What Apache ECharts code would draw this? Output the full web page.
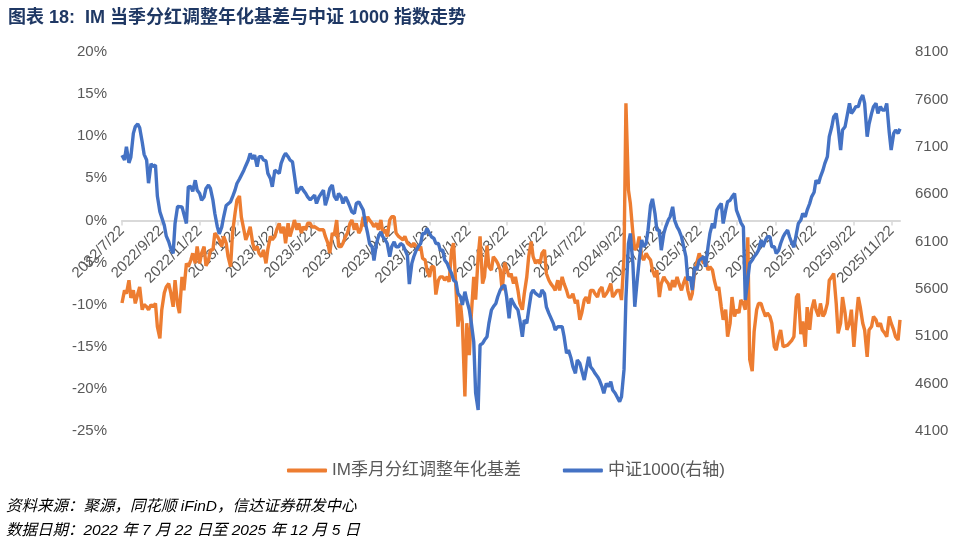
<!DOCTYPE html>
<html>
<head>
<meta charset="utf-8">
<script src="https://cdn.jsdelivr.net/npm/echarts@6/dist/echarts.min.js"></script>
<style>
html,body{margin:0;padding:0;background:#fff;}
#chart{width:961px;height:546px;}
</style>
</head>
<body>
<div id="chart"></div>
<script>
// Observation dates: Fridays
const fridays = [
'2022-07-22','2022-07-29','2022-08-05','2022-08-12','2022-08-19','2022-08-26','2022-09-02','2022-09-09','2022-09-16','2022-09-23','2022-09-30',
'2022-10-07','2022-10-14','2022-10-21','2022-10-28','2022-11-04','2022-11-11','2022-11-18','2022-11-25','2022-12-02','2022-12-09','2022-12-16','2022-12-23','2022-12-30',
'2023-01-06','2023-01-13','2023-01-20','2023-01-27','2023-02-03','2023-02-10','2023-02-17','2023-02-24','2023-03-03','2023-03-10','2023-03-17','2023-03-24','2023-03-31',
'2023-04-07','2023-04-14','2023-04-21','2023-04-28','2023-05-05','2023-05-12','2023-05-19','2023-05-26','2023-06-02','2023-06-09','2023-06-16','2023-06-23','2023-06-30',
'2023-07-07','2023-07-14','2023-07-21','2023-07-28','2023-08-04','2023-08-11','2023-08-18','2023-08-25','2023-09-01','2023-09-08','2023-09-15','2023-09-22','2023-09-29',
'2023-10-06','2023-10-13','2023-10-20','2023-10-27','2023-11-03','2023-11-10','2023-11-17','2023-11-24','2023-12-01','2023-12-08','2023-12-15','2023-12-22','2023-12-29',
'2024-01-05','2024-01-12','2024-01-19','2024-01-26','2024-02-02','2024-02-09','2024-02-16','2024-02-23','2024-03-01','2024-03-08','2024-03-15','2024-03-22','2024-03-29',
'2024-04-05','2024-04-12','2024-04-19','2024-04-26','2024-05-03','2024-05-10','2024-05-17','2024-05-24','2024-05-31','2024-06-07','2024-06-14','2024-06-21','2024-06-28',
'2024-07-05','2024-07-12','2024-07-19','2024-07-26','2024-08-02','2024-08-09','2024-08-16','2024-08-23','2024-08-30','2024-09-06','2024-09-13','2024-09-20','2024-09-27',
'2024-10-04','2024-10-11','2024-10-18','2024-10-25','2024-11-01','2024-11-08','2024-11-15','2024-11-22','2024-11-29','2024-12-06','2024-12-13','2024-12-20','2024-12-27',
'2025-01-03','2025-01-10','2025-01-17','2025-01-24','2025-01-31','2025-02-07','2025-02-14','2025-02-21','2025-02-28','2025-03-07','2025-03-14','2025-03-21','2025-03-28',
'2025-04-04','2025-04-11','2025-04-18','2025-04-25','2025-05-02','2025-05-09','2025-05-16','2025-05-23','2025-05-30','2025-06-06','2025-06-13','2025-06-20','2025-06-27',
'2025-07-04','2025-07-11','2025-07-18','2025-07-25','2025-08-01','2025-08-08','2025-08-15','2025-08-22','2025-08-29','2025-09-05','2025-09-12','2025-09-19','2025-09-26',
'2025-10-03','2025-10-10','2025-10-17','2025-10-24','2025-10-31','2025-11-07','2025-11-14','2025-11-21','2025-11-28','2025-12-05'
];
// Observation dates: Tuesdays
const tuesdays = [
'2022-07-26','2022-08-02','2022-08-09','2022-08-16','2022-08-23','2022-08-30','2022-09-06','2022-09-13','2022-09-20','2022-09-27',
'2022-10-04','2022-10-11','2022-10-18','2022-10-25','2022-11-01','2022-11-08','2022-11-15','2022-11-22','2022-11-29','2022-12-06','2022-12-13','2022-12-20','2022-12-27',
'2023-01-03','2023-01-10','2023-01-17','2023-01-24','2023-01-31','2023-02-07','2023-02-14','2023-02-21','2023-02-28','2023-03-07','2023-03-14','2023-03-21','2023-03-28',
'2023-04-04','2023-04-11','2023-04-18','2023-04-25','2023-05-02','2023-05-09','2023-05-16','2023-05-23','2023-05-30','2023-06-06','2023-06-13','2023-06-20','2023-06-27',
'2023-07-04','2023-07-11','2023-07-18','2023-07-25','2023-08-01','2023-08-08','2023-08-15','2023-08-22','2023-08-29','2023-09-05','2023-09-12','2023-09-19','2023-09-26',
'2023-10-03','2023-10-10','2023-10-17','2023-10-24','2023-10-31','2023-11-07','2023-11-14','2023-11-21','2023-11-28','2023-12-05','2023-12-12','2023-12-19','2023-12-26',
'2024-01-02','2024-01-09','2024-01-16','2024-01-23','2024-01-30','2024-02-06','2024-02-13','2024-02-20','2024-02-27','2024-03-05','2024-03-12','2024-03-19','2024-03-26',
'2024-04-02','2024-04-09','2024-04-16','2024-04-23','2024-04-30','2024-05-07','2024-05-14','2024-05-21','2024-05-28','2024-06-04','2024-06-11','2024-06-18','2024-06-25',
'2024-07-02','2024-07-09','2024-07-16','2024-07-23','2024-07-30','2024-08-06','2024-08-13','2024-08-20','2024-08-27','2024-09-03','2024-09-10','2024-09-17','2024-09-24',
'2024-10-01','2024-10-08','2024-10-15','2024-10-22','2024-10-29','2024-11-05','2024-11-12','2024-11-19','2024-11-26','2024-12-03','2024-12-10','2024-12-17','2024-12-24','2024-12-31',
'2025-01-07','2025-01-14','2025-01-21','2025-01-28','2025-02-04','2025-02-11','2025-02-18','2025-02-25','2025-03-04','2025-03-11','2025-03-18','2025-03-25',
'2025-04-01','2025-04-08','2025-04-15','2025-04-22','2025-04-29','2025-05-06','2025-05-13','2025-05-20','2025-05-27','2025-06-03','2025-06-10','2025-06-17','2025-06-24',
'2025-07-01','2025-07-08','2025-07-15','2025-07-22','2025-07-29','2025-08-05','2025-08-12','2025-08-19','2025-08-26','2025-09-02','2025-09-09','2025-09-16','2025-09-23','2025-09-30',
'2025-10-07','2025-10-14','2025-10-21','2025-10-28','2025-11-04','2025-11-11','2025-11-18','2025-11-25','2025-12-02'
];

// IM 季月分红调整年化基差 (%), Friday readings
const imFri = [
-9.8,-8.7,-9.2,-9.85,-7.9,-10.0,-10.6,-10.25,-12.6,-10.6,
-7.9,-8.5,-7.1,-11.0,-8.3,-5.5,-3.9,-3.1,-3.9,-5.4,
-3.5,-1.5,-2.3,-1.9,-4.3,-1.5,2.4,0.4,-2.3,-0.75,
-3.5,-3.9,-3.5,-3.4,-2.3,-1.1,-1.5,-2.7,-1.9,0.05,
-0.34,-0.75,-0.34,-0.8,-0.55,-1.3,-1.9,-3.9,-1.8,-3.1,
-2.7,-1.5,0.05,-0.34,-1.1,-0.75,0.05,-0.75,-1.1,-1.5,
-1.9,0.44,-1.5,-1.9,-1.9,-2.7,-2.7,-3.5,-4.5,-5.9,
-5.5,-8.8,-6.7,-7.1,-7.3,-2.7,-12.6,-12.2,-12.2,-11.4,
-9.4,-1.9,-6.7,-5.5,-4.3,-5.1,-8.3,-5.1,-6.3,-6.7,
-9.85,-8.7,-4.3,-4.3,-4.7,-3.9,-6.3,-7.5,-8.3,-8.3,
-7.5,-9.1,-8.7,-9.45,-11.0,-9.1,-8.3,-8.7,-8.3,-9.1,
-8.3,-9.1,-8.3,-9.45,13.9,2.0,-3.5,-1.9,-4.7,-4.3,
-5.9,-5.9,-7.5,-7.1,-8.3,-7.9,-7.5,-7.5,-8.3,-8.7,
-5.1,-4.5,-4.7,-5.5,-7.1,-7.9,-11.8,-13.8,-9.1,-10.6,
-9.45,-10.6,-16.5,-13.2,-9.85,-10.6,-11.0,-12.2,-15.4,-13.0,
-15.0,-14.6,-13.8,-8.7,-12.0,-10.3,-10.6,-10.6,-9.85,-11.0,
-7.1,-6.3,-13.4,-9.1,-13.0,-10.6,-12.2,-10.25,-13.0,-13.0,
-11.4,-12.6,-13.0,-13.8,-12.2,-13.8,-11.8
];
// IM 季月分红调整年化基差 (%), Tuesday readings
const imTue = [
-8.3,-7.1,-8.3,-8.7,-10.6,-10.25,-10.0,-9.85,-14.0,-8.6,
-7.5,-10.25,-10.0,-6.7,-5.1,-4.7,-5.1,-5.1,-3.1,-4.7,
-3.5,-1.9,-3.1,-2.7,-5.5,0.84,2.9,-1.1,-1.5,-2.7,
-3.1,-4.3,-5.1,-1.9,-1.9,-0.34,-0.75,-0.34,-0.9,-1.1,
-1.5,-1.1,-0.34,-0.75,-1.1,-1.1,-2.7,-1.5,0.05,-3.1,
-1.9,-0.34,-1.1,-1.5,0.44,0.44,-0.34,-0.34,0.05,-1.1,
0.05,0.44,-1.9,-2.3,-2.7,-3.1,-3.1,-3.1,-4.7,-6.7,
-5.5,-7.1,-6.7,-6.7,-3.5,-8.3,-9.85,-20.9,-16.0,-6.7,
-4.3,-7.5,-3.0,-5.9,-4.7,-5.9,-5.0,-6.7,-7.5,-8.3,
-10.6,-6.7,-2.5,-5.1,-5.1,-3.5,-7.1,-7.9,-7.1,-6.7,
-8.3,-9.1,-9.85,-11.8,-9.45,-9.85,-8.3,-9.1,-7.9,-8.7,
-7.5,-8.7,-8.3,-4.3,3.6,-1.5,-3.1,-4.3,-3.9,-4.7,
-6.7,-9.1,-6.7,-7.5,-7.1,-6.7,-8.3,-6.7,-9.45,-5.9,
-3.9,-5.1,-5.9,-5.9,-8.3,-10.25,-10.6,-12.2,-11.4,-11.0,
-9.85,-2.0,-17.9,-10.6,-9.85,-11.4,-11.4,-15.0,-13.8,-15.0,
-14.8,-14.2,-9.1,-13.5,-15.0,-13.0,-9.4,-11.4,-11.4,-9.85,
-6.7,-9.85,-12.2,-11.0,-12.2,-15.0,-9.1,-12.2,-16.2,-12.6,
-11.8,-12.2,-13.4,-11.4,-13.0,-14.2
];

// 中证1000 指数 (右轴), Friday readings
const csiFri = [
7010,7100,6990,7311,7300,7020,6715,6890,6580,6431,
6160,6030,6290,6450,6480,6677,6630,6642,6536,6660,
6660,6396,6180,6361,6501,6570,6712,6775,6900,7030,
7013,6995,6960,6819,6677,6871,6925,7030,6960,6800,
6642,6642,6570,6550,6501,6570,6483,6659,6580,6607,
6501,6530,6413,6501,6536,6308,6079,5900,6150,6150,
6079,6044,6044,6079,6079,5650,5939,6044,6185,6238,
6150,6079,6009,5904,5815,5692,5552,5430,5480,5250,
4500,5008,5060,5236,5411,5517,5622,5520,5500,5411,
5271,5270,5377,5588,5552,5588,5411,5320,5166,5218,
5100,4955,4779,4849,4796,4744,4779,4709,4638,4498,
4568,4533,4480,4462,5500,6185,5411,5900,6044,6220,
6550,6220,6009,6255,6361,6326,6220,6150,5692,5588,
5798,5900,5833,6185,6240,6466,6290,6520,6571,6431,
6300,5482,5869,5939,6009,6044,6150,6044,5974,6079,
6185,6150,6040,6290,6396,6431,6571,6747,6783,6925,
7206,7417,7311,7276,7417,7452,7523,7593,7558,7340,
7523,7452,7488,7558,7065,7276,7290
];
// 中证1000 指数 (右轴), Tuesday readings
const csiTue = [
6960,6930,7241,7340,7150,6960,6920,6907,6413,6270,
6097,5974,6470,6466,6290,6680,6747,6607,6570,6695,
6536,6255,6255,6480,6520,6642,6760,6853,6960,6970,
6890,6995,6950,6766,6853,6819,6995,6995,6940,6607,
6677,6607,6540,6589,6571,6642,6571,6695,6536,6571,
6571,6466,6396,6519,6431,6185,6044,6079,6202,6115,
5939,6097,6044,6062,5950,5869,6009,6079,6185,6185,
6132,6079,6009,5869,5763,5670,5517,5570,5380,5043,
4322,5025,5095,5377,5446,5588,5640,5290,5446,5377,
5095,5236,5552,5552,5517,5552,5341,5236,5201,5201,
4920,4870,4709,4814,4638,4884,4744,4673,4568,4603,
4620,4498,4409,4750,6079,5869,5700,6115,6079,6480,
6396,6220,6185,6326,6466,6255,6150,5939,5728,5833,
5900,5939,6044,6290,6431,6501,6431,6536,6607,6361,
6255,5700,5904,5974,6115,6115,6150,6044,6009,6150,
6220,6079,6185,6326,6361,6501,6620,6712,6853,6995,
7311,7450,7065,7311,7558,7488,7523,7646,7206,7452,
7558,7523,7488,7250,7241,7241
];

const xTickLabels = ['2022/7/22','2022/9/22','2022/11/22','2023/1/22','2023/3/22','2023/5/22','2023/7/22',
'2023/9/22','2023/11/22','2024/1/22','2024/3/22','2024/5/22','2024/7/22','2024/9/22','2024/11/22',
'2025/1/22','2025/3/22','2025/5/22','2025/7/22','2025/9/22','2025/11/22'];
const leftTicks = [-25,-20,-15,-10,-5,0,5,10,15,20];
const rightTicks = [4100,4600,5100,5600,6100,6600,7100,7600,8100];
const xStart = '2022-07-22';
const xEnd = '2025-12-05';

const seriesNames = ['IM季月分红调整年化基差','中证1000(右轴)'];
const titleText = '图表 18:  IM 当季分红调整年化基差与中证 1000 指数走势';
const sourceText = '资料来源：聚源，同花顺 iFinD，信达证券研发中心';
const dateText = '数据日期：2022 年 7 月 22 日至 2025 年 12 月 5 日';

function ts(s){ const p = s.split(/[-\/]/).map(Number); return new Date(p[0], p[1]-1, p[2]).getTime(); }
function fmt(v){ const d = new Date(v); return d.getFullYear()+'/'+(d.getMonth()+1)+'/'+d.getDate(); }
// merge the Friday and Tuesday readings into one date-ordered list of [time, value]
function merged(fri, tue){
  const rows = fridays.map((d,i)=>[ts(d), fri[i]]).concat(tuesdays.map((d,i)=>[ts(d), tue[i]]));
  rows.sort((a,b)=>a[0]-b[0]);
  return rows;
}

const FONT = '"Liberation Sans", Arial, "Noto Sans CJK SC", sans-serif';
const GRID_TOP = 52, GRID_BOTTOM = 115, H = 546;
const plotH = H - GRID_TOP - GRID_BOTTOM;
// distance from the bottom of the plot up to the 0% line of the left axis
const zeroShift = plotH * (0 - leftTicks[0]) / (leftTicks[leftTicks.length-1] - leftTicks[0]);

const chart = echarts.init(document.getElementById('chart'), null, {renderer:'canvas'});
chart.setOption({
  animation:false,
  backgroundColor:'#fff',
  textStyle:{fontFamily:FONT},
  title:{
    text:titleText, left:3, top:4,
    textStyle:{fontSize:18, fontWeight:'bold', color:'#1F3864', fontFamily:FONT}
  },
  legend:{
    data:seriesNames, left:282, top:457, itemWidth:40, itemHeight:4, itemGap:42,
    icon:'roundRect',
    textStyle:{fontSize:17, color:'#595959', fontFamily:FONT}
  },
  grid:{left:122, right:61, top:GRID_TOP, bottom:GRID_BOTTOM, containLabel:false},
  xAxis:{
    type:'value', min:ts(xStart), max:ts(xEnd), scale:true,
    offset:-zeroShift,
    axisLine:{show:true, onZero:false, lineStyle:{color:'#D9D9D9', width:2}},
    axisTick:{show:true, customValues:xTickLabels.map(ts), length:5, lineStyle:{color:'#D9D9D9', width:1.5}},
    axisLabel:{customValues:xTickLabels.map(ts), formatter:fmt, rotate:45, color:'#595959', fontSize:15, margin:8, fontFamily:FONT},
    splitLine:{show:false}
  },
  yAxis:[
    {type:'value', min:leftTicks[0], max:leftTicks[leftTicks.length-1], interval:5,
     axisLabel:{formatter:'{value}%', color:'#595959', fontSize:15, margin:15, fontFamily:FONT},
     axisLine:{show:false}, axisTick:{show:false}, splitLine:{show:false}},
    {type:'value', position:'right', min:rightTicks[0], max:rightTicks[rightTicks.length-1],
     axisLabel:{customValues:rightTicks, formatter:function(v){return String(v);}, color:'#595959', fontSize:15, margin:15, fontFamily:FONT},
     axisLine:{show:false}, axisTick:{show:false}, splitLine:{show:false}}
  ],
  series:[
    {name:seriesNames[0], type:'line', yAxisIndex:0, showSymbol:false, symbol:'none',
     data:merged(imFri, imTue),
     lineStyle:{color:'#ED7D31', width:3.4}, itemStyle:{color:'#ED7D31'}},
    {name:seriesNames[1], type:'line', yAxisIndex:1, showSymbol:false, symbol:'none',
     data:merged(csiFri, csiTue),
     lineStyle:{color:'#4472C4', width:3.4}, itemStyle:{color:'#4472C4'}}
  ],
  graphic:[
    {type:'text', left:6, top:499, style:{text:sourceText, fontSize:15.5, fontStyle:'italic', fontFamily:FONT, fill:'#000'}},
    {type:'text', left:6, top:523, style:{text:dateText, fontSize:15.5, fontStyle:'italic', fontFamily:FONT, fill:'#000'}}
  ]
});
</script>
</body>
</html>
